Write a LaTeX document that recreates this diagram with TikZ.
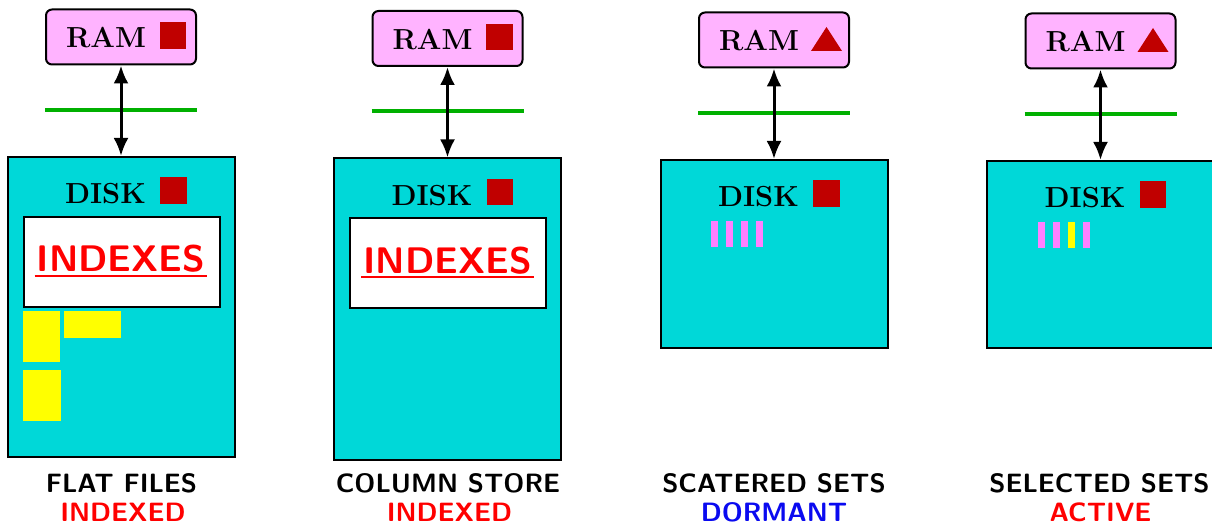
\documentclass[tikz,border=0pt]{standalone}
\usepackage{fontspec}
\usetikzlibrary{arrows.meta}
\definecolor{ramfill}{HTML}{FFB3FF}
\definecolor{diskfill}{HTML}{00D8D8}
\definecolor{darkred}{HTML}{C00000}
\definecolor{busgreen}{HTML}{00B000}
\definecolor{yelfill}{HTML}{FFFF00}
\definecolor{barpink}{HTML}{FF80FF}
\definecolor{textred}{HTML}{FF0000}
\definecolor{textblue}{HTML}{0A0AF0}
\begin{document}
\begin{tikzpicture}[x=1pt,y=-1pt,
  rambox/.style={draw, line width=2pt, fill=ramfill, rounded corners=6pt, minimum width=150pt, minimum height=55pt, inner sep=0pt},
  diskbox/.style={draw, line width=2pt, fill=diskfill, minimum width=227pt, inner sep=0pt, anchor=north},
  idxbox/.style={draw, line width=2pt, fill=white, minimum width=196pt, minimum height=90pt, inner sep=0pt},
  redsq/.style={fill=darkred, minimum size=26.5pt, inner sep=0pt},
  yelrect/.style={fill=yelfill, inner sep=0pt, anchor=north west},
  pinkbar/.style={fill=barpink, minimum width=7pt, minimum height=26pt, inner sep=0pt, anchor=north west},
  serifl/.style={font=\fontsize{29}{30}\selectfont\bfseries, inner sep=0pt, anchor=base},
  idxt/.style={font=\sffamily\bfseries\fontsize{37}{40}\selectfont, text=textred, inner sep=0pt, anchor=base},
  caplbl/.style={font=\sffamily\bfseries\fontsize{26.5}{30}\selectfont, inner sep=0pt, anchor=base},
  link/.style={line width=3pt, {Latex[length=18pt,width=15pt]}-{Latex[length=18pt,width=15pt]}},
  busline/.style={line width=4pt, draw=busgreen},
  uline/.style={draw=textred, line width=2pt}]
\clip (0,0) rectangle (1212,526);
\fill[white] (0,0) rectangle (1212,526);

% ---------- panel 1 ----------
\node[rambox] (ram1) at (121,37) {};
\node[serifl] (ramt1) at (106,48) {RAM};
\node[redsq] (ramsq1) at (173,35.5) {};
\coordinate (busa1) at (45,110);
\coordinate (busb1) at (197,110);
\draw[busline] (busa1) -- (busb1);
\node[diskbox, minimum height=300pt] (disk1) at (121,156) {};
\draw[link] (ram1.south) -- (disk1.north);
\node[serifl] (diskt1) at (105.5,204) {DISK};
\node[redsq] (disksq1) at (173.5,190.5) {};
\node[idxbox] (idx1) at (121.5,262) {};
\node[idxt] (idxt1) at (121,272) {INDEXES};
\draw[uline] ([xshift=-2pt,yshift=-4pt]idxt1.base west) -- ([xshift=2pt,yshift=-4pt]idxt1.base east);
\node[yelrect, minimum width=37pt, minimum height=51pt] (ya1) at (23,311) {};
\node[yelrect, minimum width=57pt, minimum height=27pt] (yb1) at (64,311) {};
\node[yelrect, minimum width=38pt, minimum height=51pt] (yc1) at (23,370) {};

% ---------- panel 2 ----------
\begin{scope}[shift={(326.5,1.5)}]
\node[rambox] (ram2) at (121,37) {};
\node[serifl] (ramt2) at (106,48) {RAM};
\node[redsq] (ramsq2) at (173,35.5) {};
\coordinate (busa2) at (45,110);
\coordinate (busb2) at (197,110);
\draw[busline] (busa2) -- (busb2);
\node[diskbox, minimum height=301pt] (disk2) at (121,156) {};
\draw[link] (ram2.south) -- (disk2.north);
\node[serifl] (diskt2) at (105.5,204) {DISK};
\node[redsq] (disksq2) at (173.5,190.5) {};
\node[idxbox] (idx2) at (121.5,262) {};
\node[idxt] (idxt2) at (121,272) {INDEXES};
\draw[uline] ([xshift=-2pt,yshift=-4pt]idxt2.base west) -- ([xshift=2pt,yshift=-4pt]idxt2.base east);
\end{scope}

% ---------- panel 3 ----------
\begin{scope}[shift={(653,3)}]
\node[rambox] (ram3) at (121,37) {};
\node[serifl] (ramt3) at (106,48) {RAM};
\fill[darkred] (158,48) -- (189,48) -- (173.5,24) -- cycle;
\coordinate (busa3) at (45,110);
\coordinate (busb3) at (197,110);
\draw[busline] (busa3) -- (busb3);
\node[diskbox, minimum height=188pt] (disk3) at (121,156) {};
\draw[link] (ram3.south) -- (disk3.north);
\node[serifl] (diskt3) at (105.5,204) {DISK};
\node[redsq] (disksq3) at (173.5,190.5) {};
\node[pinkbar] (bara3) at (58,218) {};
\node[pinkbar] (barb3) at (73,218) {};
\node[pinkbar] (barc3) at (88,218) {};
\node[pinkbar] (bard3) at (103,218) {};
\end{scope}

% ---------- panel 4 ----------
\begin{scope}[shift={(979.5,4)}]
\node[rambox] (ram4) at (121,37) {};
\node[serifl] (ramt4) at (106,48) {RAM};
\fill[darkred] (158,48) -- (189,48) -- (173.5,24) -- cycle;
\coordinate (busa4) at (45,110);
\coordinate (busb4) at (197,110);
\draw[busline] (busa4) -- (busb4);
\node[diskbox, minimum height=187pt] (disk4) at (121,156) {};
\draw[link] (ram4.south) -- (disk4.north);
\node[serifl] (diskt4) at (105.5,204) {DISK};
\node[redsq] (disksq4) at (173.5,190.5) {};
\node[pinkbar] (bara4) at (58,218) {};
\node[pinkbar] (barb4) at (73,218) {};
\node[pinkbar, fill=yelfill] (barc4) at (88,218) {};
\node[pinkbar] (bard4) at (103,218) {};
\end{scope}

% ---------- captions ----------
\node[caplbl] (lab1) at (121.5,492) {FLAT FILES};
\node[caplbl, text=textred] (sub1) at (123,521) {INDEXED};
\node[caplbl] (lab2) at (448,492) {COLUMN STORE};
\node[caplbl, text=textred] (sub2) at (449.5,521) {INDEXED};
\node[caplbl] (lab3) at (774,492) {SCATERED SETS};
\node[caplbl, text=textblue] (sub3) at (774,521) {DORMANT};
\node[caplbl] (lab4) at (1099.5,492) {SELECTED SETS};
\node[caplbl, text=textred] (sub4) at (1100.5,521) {ACTIVE};
\end{tikzpicture}
\end{document}
